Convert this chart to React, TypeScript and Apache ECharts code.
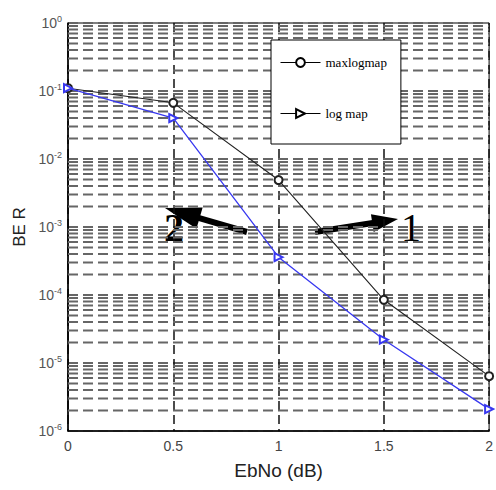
import React, { useEffect, useRef } from "react";
import * as echarts from "echarts";

const ebno = [0, 0.5, 1, 1.5, 2];
const maxlogmap = [0.11, 0.067, 0.0049, 0.000085, 0.0000064];
const logmap = [0.11, 0.04, 0.00036, 0.000022, 0.0000021];
const xTicks = [0, 0.5, 1, 1.5, 2];
const decades = [-6, -5, -4, -3, -2, -1];
const minorFactors = [2, 3, 4, 5, 6, 7, 8, 9];

const minorLines: number[] = [];
decades.forEach((d) => minorFactors.forEach((f) => minorLines.push(f * Math.pow(10, d))));

const gridSegments: any[] = [];
minorLines.forEach((v) => {
  gridSegments.push([0, v], [2, v], "-");
});

function arrow(tail: number[], tip: number[], headLen: number, headW: number, lw: number) {
  const dx = tip[0] - tail[0];
  const dy = tip[1] - tail[1];
  const len = Math.sqrt(dx * dx + dy * dy);
  const ux = dx / len, uy = dy / len;
  const px = -uy, py = ux;
  const bx = tip[0] - ux * headLen, by = tip[1] - uy * headLen;
  return [
    { type: "line", shape: { x1: tail[0], y1: tail[1], x2: bx + ux * 2, y2: by + uy * 2 }, style: { stroke: "#000", lineWidth: lw } },
    {
      type: "polygon",
      shape: { points: [[tip[0], tip[1]], [bx + px * headW, by + py * headW], [bx - px * headW, by - py * headW]] },
      style: { fill: "#000" },
    },
  ];
}

export default function App() {
  const ref = useRef<HTMLDivElement>(null);
  useEffect(() => {
    const chart = echarts.init(ref.current!, null, { renderer: "svg" });
    const gridStyle = { type: [10, 5] as any, color: "#666", width: 2 };
    chart.setOption({
      animation: false,
      backgroundColor: "#fff",
      grid: { left: 68, top: 23, right: 3, bottom: 59, show: true, borderColor: "#000", borderWidth: 1 },
      legend: {
        data: [
          { name: "maxlogmap", itemStyle: { color: "#000", borderWidth: 1 }, lineStyle: { color: "#000", width: 1 } },
          { name: "log map", itemStyle: { color: "#000", borderWidth: 1 }, lineStyle: { color: "#000", width: 1 } },
        ],
        orient: "vertical",
        left: 271,
        top: 40,
        itemWidth: 40,
        itemHeight: 11,
        itemGap: 38,
        padding: [16, 14, 24, 9],
        backgroundColor: "#fff",
        borderColor: "#000",
        borderWidth: 1,
        borderRadius: 0,
        textStyle: { fontFamily: "Liberation Serif", fontSize: 13, color: "#000" },
      },
      xAxis: {
        type: "value",
        min: 0,
        max: 2,
        interval: 0.5,
        name: "EbNo (dB)",
        nameLocation: "middle",
        nameGap: 30,
        nameTextStyle: { fontFamily: "Liberation Sans", fontSize: 19, color: "#222" },
        axisLine: { lineStyle: { color: "#000", width: 1.5 } },
        axisTick: { show: false },
        axisLabel: { fontFamily: "Liberation Sans", fontSize: 14, color: "#444", margin: 8,
          formatter: (v: number) => (xTicks.includes(v) ? String(v) : "") },
        splitLine: { show: true, lineStyle: { type: [9, 5], color: "#111", width: 1.5 } },
      },
      yAxis: {
        type: "log",
        logBase: 10,
        min: 1e-6,
        max: 1,
        splitNumber: 6,
        name: "BE R",
        nameLocation: "middle",
        nameGap: 36,
        nameRotate: 90,
        nameTextStyle: { fontFamily: "Liberation Sans", fontSize: 17, color: "#222" },
        axisLine: { show: true, lineStyle: { color: "#000", width: 1.5 } },
        axisTick: { show: false },
        axisLabel: {
          margin: 6,
          formatter: (v: number) => `{b|10}{e|${Math.round(Math.log10(v))}}`,
          rich: {
            b: { fontFamily: "Liberation Sans", fontSize: 14, color: "#555" },
            e: { fontFamily: "Liberation Sans", fontSize: 9, color: "#555", padding: [0, 0, 9, 0] },
          },
        },
        splitLine: { show: true, lineStyle: gridStyle },
      },
      series: [
        {
          name: "grid",
          type: "line",
          data: gridSegments,
          z: 1,
          silent: true,
          showSymbol: false,
          symbol: "none",
          connectNulls: false,
          lineStyle: gridStyle,
        },
        {
          name: "maxlogmap",
          type: "line",
          z: 5,
          data: ebno.map((x, i) => [x, maxlogmap[i]]),
          symbol: "emptyCircle",
          symbolSize: 8,
          color: "#222",
          lineStyle: { color: "#222", width: 1.1 },
          itemStyle: { color: "#222", borderWidth: 1.2 },
        },
        {
          name: "log map",
          type: "line",
          z: 6,
          data: ebno.map((x, i) => [x, logmap[i]]),
          symbol: "emptyTriangle",
          symbolRotate: -90,
          symbolSize: 8,
          color: "#3838f0",
          lineStyle: { color: "#3838f0", width: 1.3 },
          itemStyle: { color: "#3838f0", borderWidth: 1.3 },
        },
      ],
      graphic: [
        ...arrow([247, 232], [165, 208], 36, 11, 6),
        ...arrow([315, 232], [398, 219], 26, 9, 6),
        { type: "text", x: 174, y: 227, style: { text: "2", font: "bold 40px 'Liberation Serif'", fill: "#000", align: "center", verticalAlign: "middle" } },
        { type: "text", x: 411, y: 227, style: { text: "1", font: "40px 'Liberation Serif'", fill: "#000", align: "center", verticalAlign: "middle" } },
      ],
    });
    return () => chart.dispose();
  }, []);
  return <div ref={ref} style={{ width: 496, height: 490, position: "absolute", left: 0, top: 0 }} />;
}
